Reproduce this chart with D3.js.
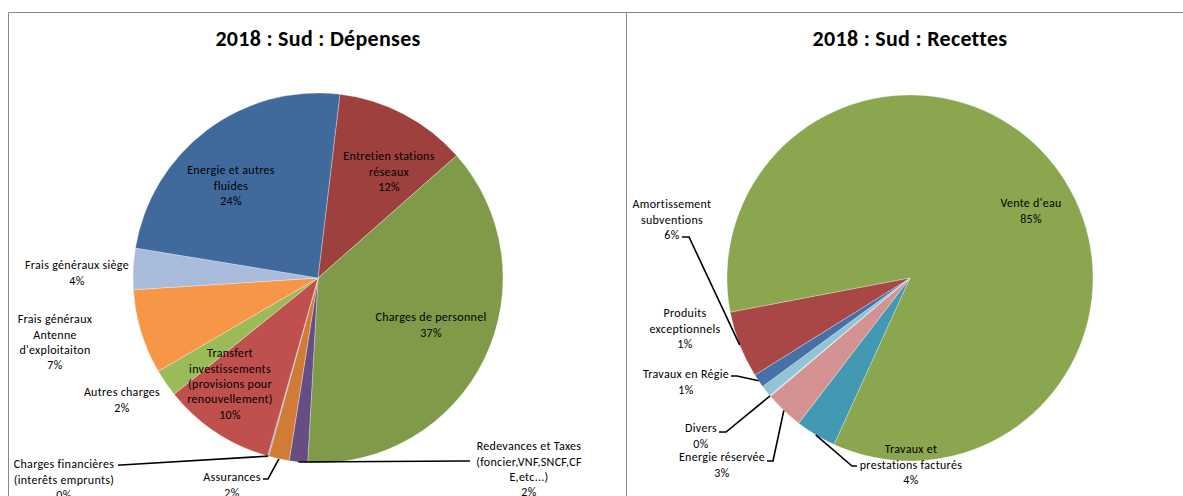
<!DOCTYPE html>
<html>
<head>
<meta charset="utf-8">
<script src="https://cdn.jsdelivr.net/npm/d3@7"></script>
<style>
  body { margin: 0; background: #fff; }
  text { font-family: Carlito, Lato, "Liberation Sans", sans-serif; fill: #000; }
</style>
</head>
<body>
<script>
// 0. data (in clockwise order as drawn)
var depCategories = [
  "Entretien stations\nréseaux",
  "Charges de personnel",
  "Redevances et Taxes\n(foncier,VNF,SNCF,CF\nE,etc...)",
  "Assurances",
  "Charges financières\n(interêts emprunts)",
  "Transfert\ninvestissements\n(provisions pour\nrenouvellement)",
  "Autres charges",
  "Frais généraux\nAntenne\nd'exploitaiton",
  "Frais généraux siège",
  "Energie et autres\nfluides"
];
var depValues = [11.6, 37.4, 1.6, 1.8, 0.1, 9.8, 2.4, 7.4, 3.6, 24.3];
var depColors = ["#9e413e", "#7f9b49", "#664e84", "#d07c36", "#6f9bd0", "#c0504d", "#9bbb59", "#f79646", "#a9bbdb", "#40699c"];

var recCategories = [
  "Vente d'eau",
  "Travaux et\nprestations facturés",
  "Energie réservée",
  "Divers",
  "Produits\nexceptionnels",
  "Travaux en Régie",
  "Amortissement\nsubventions"
];
var recValues = [84.9, 3.6, 3.4, 0.1, 1.0, 1.2, 5.9];
var recColors = ["#8aa64e", "#4399b1", "#d49392", "#d0d0d0", "#93c4d6", "#4670a8", "#a84745"];

// 0.1 layout of labels (label centre of first line, and the leader start/elbow if any)
var depLayout = [
  { x: 389, y: 156 },
  { x: 431, y: 317 },
  { x: 529, y: 446, lead: [[470, 461], [466, 461]] },
  { x: 232, y: 477, lead: [[263, 479], [268, 479]] },
  { x: 64, y: 464, lead: [[118, 465], [121, 465]] },
  { x: 230, y: 353 },
  { x: 122, y: 392 },
  { x: 55, y: 319 },
  { x: 77, y: 265 },
  { x: 231, y: 170 }
];
var recLayout = [
  { x: 1031, y: 203 },
  { x: 911, y: 449, lead: [[857, 466], [852, 466]] },
  { x: 722, y: 457, lead: [[767, 461], [773, 461]] },
  { x: 701, y: 428, lead: [[719, 432], [726, 432]] },
  { x: 685, y: 313 },
  { x: 686, y: 374, lead: [[731, 376], [737, 376]] },
  { x: 672, y: 204, lead: [[682, 237], [689, 237]] }
];

var W = 1183, H = 496, lineH = 15.4;
var fmtPct = d3.format(".0%");

var svg = d3.select("body").append("svg")
  .attr("width", W)
  .attr("height", H);

// 1. chart frames
svg.append("path")
  .attr("d", "M8.5,496 V12.5 H1183 M626.5,12.5 V496")
  .attr("fill", "none")
  .attr("stroke", "#8a8a8a")
  .attr("stroke-width", 1);

// 2. one pie
function drawPie(opt) {
  var total = d3.sum(opt.values);
  var a0 = opt.start * Math.PI / 180;
  var pie = d3.pie().sort(null).value(function(d) { return d; })
    .startAngle(a0).endAngle(a0 + 2 * Math.PI);
  var arcs = pie(opt.values);
  var arc = d3.arc().innerRadius(0).outerRadius(opt.r);

  // title
  svg.append("text")
    .attr("x", opt.cx)
    .attr("y", 46)
    .attr("text-anchor", "middle")
    .style("font-size", "22px")
    .style("letter-spacing", "0.3px")
    .style("font-weight", "bold")
    .text(opt.title);

  var g = svg.append("g").attr("transform", "translate(" + opt.cx + "," + opt.cy + ")");
  g.selectAll("path.slice")
    .data(arcs)
    .enter().append("path")
    .attr("class", "slice")
    .attr("d", arc)
    .attr("fill", function(d, i) { return opt.colors[i]; })
    .attr("stroke", "#fff")
    .attr("stroke-width", 0.3);

  // leader lines: label side -> elbow -> slice edge at mid angle
  arcs.forEach(function(d, i) {
    var L = opt.layout[i];
    if (!L.lead) return;
    var mid = (d.startAngle + d.endAngle) / 2;
    var end = [opt.cx + opt.r * Math.sin(mid), opt.cy - opt.r * Math.cos(mid)];
    svg.append("path")
      .attr("d", d3.line()(L.lead.concat([end])))
      .attr("fill", "none")
      .attr("stroke", "#000")
      .attr("stroke-width", 1.6);
  });

  // labels
  arcs.forEach(function(d, i) {
    var L = opt.layout[i];
    var lines = opt.categories[i].split("\n").concat([fmtPct(d.value / total)]);
    var t = svg.append("text")
      .attr("text-anchor", "middle")
      .style("font-size", "12px")
      .style("letter-spacing", "0.3px");
    lines.forEach(function(s, k) {
      t.append("tspan")
        .attr("x", L.x)
        .attr("y", L.y + k * lineH)
        .attr("dy", "0.35em")
        .text(s);
    });
  });
}

drawPie({ title: "2018 : Sud : Dépenses", cx: 318, cy: 278, r: 185, start: 6.8,
  values: depValues, categories: depCategories, colors: depColors, layout: depLayout });
drawPie({ title: "2018 : Sud : Recettes", cx: 910, cy: 278, r: 183, start: 259.2,
  values: recValues, categories: recCategories, colors: recColors, layout: recLayout });
</script>
</body>
</html>
